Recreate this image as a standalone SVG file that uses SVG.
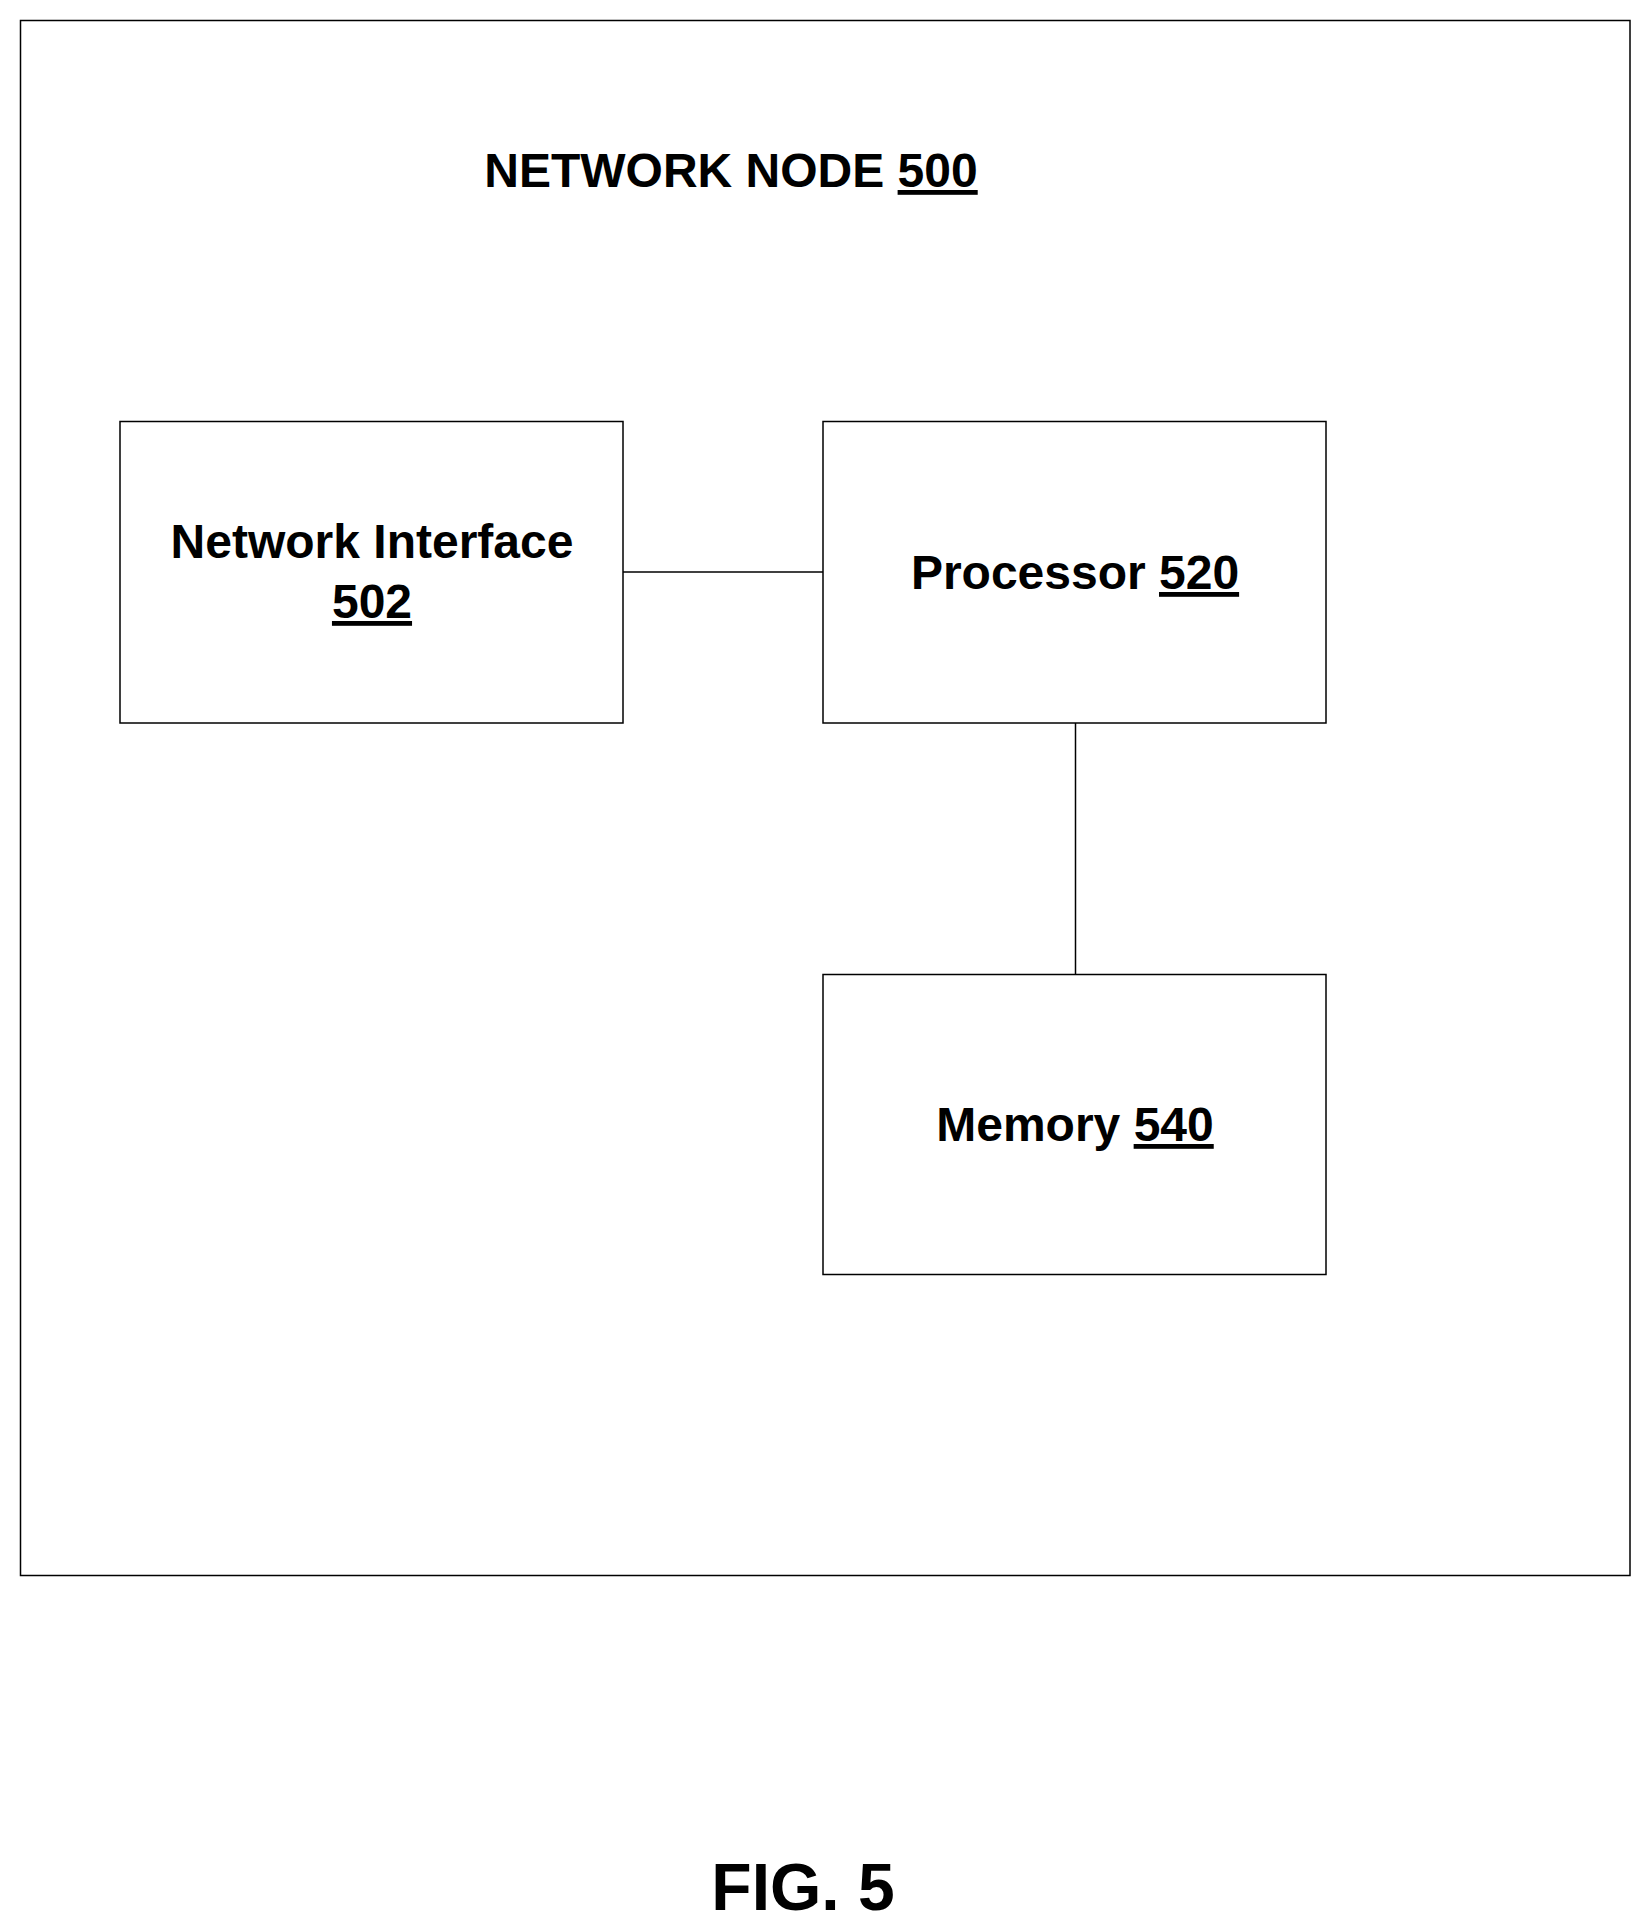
<svg xmlns="http://www.w3.org/2000/svg" width="1651" height="1932" viewBox="0 0 1651 1932">
<style>
text{font-family:"Liberation Sans",Arial,sans-serif;font-weight:bold;fill:#000;text-anchor:middle}
.b{fill:#fff;stroke:#000;stroke-width:1.5}
.c{stroke:#000;stroke-width:1.5;fill:none}
.l{font-size:48px}
</style>
<rect width="1651" height="1932" fill="#fff"/>
<g id="outer"><rect class="b" x="20.5" y="20.5" width="1609.5" height="1555" stroke-width="2"/>
<text class="l" x="731" y="187">NETWORK NODE <tspan text-decoration="underline">500</tspan></text></g>
<g id="connectors"><line class="c" x1="623" y1="572" x2="823" y2="572"/><line class="c" x1="1075.5" y1="723" x2="1075.5" y2="974.5"/></g>
<g id="n502"><rect class="b" x="120" y="421.5" width="503" height="301.5"/>
<text class="l" x="372" y="558">Network Interface</text><text class="l" x="372" y="618" text-decoration="underline">502</text></g>
<g id="n520"><rect class="b" x="823" y="421.5" width="503" height="301.5"/>
<text class="l" x="1075" y="589">Processor <tspan text-decoration="underline">520</tspan></text></g>
<g id="n540"><rect class="b" x="823" y="974.5" width="503" height="300"/>
<text class="l" x="1075" y="1141">Memory <tspan text-decoration="underline">540</tspan></text></g>
<text x="803" y="1910" font-size="66">FIG. 5</text>
</svg>
